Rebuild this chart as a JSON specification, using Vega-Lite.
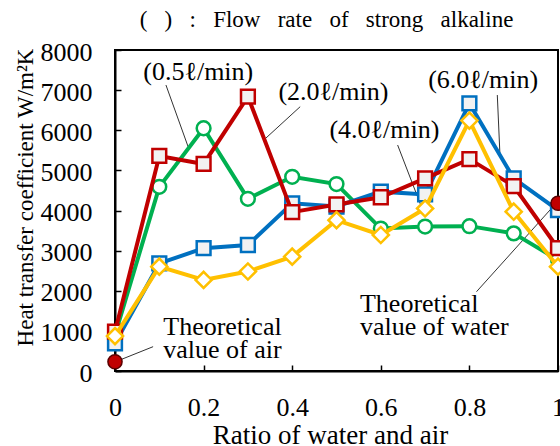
{
 "$schema": "https://vega.github.io/schema/vega-lite/v6.json",
 "width": 443,
 "height": 321,
 "autosize": {"type": "none"},
 "padding": {"left": 115, "top": 50, "right": 2, "bottom": 75},
 "background": "white",
 "config": {
  "font": "Liberation Serif",
  "view": {"stroke": "black", "strokeWidth": 2},
  "axis": {
   "grid": false,
   "domainColor": "black",
   "domainWidth": 2,
   "tickColor": "black",
   "tickWidth": 1.5,
   "tickSize": -6,
   "labelFont": "Liberation Serif",
   "titleFont": "Liberation Serif",
   "labelFontSize": 26,
   "labelColor": "black",
   "labelFlush": false,
   "labelOverlap": false,
   "titleColor": "black",
   "titleFontWeight": "normal"
  }
 },
 "title": {
  "text": "(\u2002 )\u2002 :\u2002 Flow\u2002 rate\u2002 of\u2002 strong\u2002 alkaline",
  "fontSize": 23,
  "fontWeight": "normal",
  "font": "Liberation Serif",
  "color": "black",
  "anchor": "middle",
  "baseline": "alphabetic",
  "offset": 8,
  "dy": 19,
  "dx": -10
 },
 "datasets": {
  "series": [
   {"flow": "0.5", "x": 0, "y": 900}, {"flow": "0.5", "x": 0.1, "y": 4590}, {"flow": "0.5", "x": 0.2, "y": 6050}, {"flow": "0.5", "x": 0.3, "y": 4290}, {"flow": "0.5", "x": 0.4, "y": 4840}, {"flow": "0.5", "x": 0.5, "y": 4660}, {"flow": "0.5", "x": 0.6, "y": 3550}, {"flow": "0.5", "x": 0.7, "y": 3600}, {"flow": "0.5", "x": 0.8, "y": 3610}, {"flow": "0.5", "x": 0.9, "y": 3430}, {"flow": "0.5", "x": 1.0, "y": 2770},
   {"flow": "6.0", "x": 0, "y": 690}, {"flow": "6.0", "x": 0.1, "y": 2680}, {"flow": "6.0", "x": 0.2, "y": 3060}, {"flow": "6.0", "x": 0.3, "y": 3140}, {"flow": "6.0", "x": 0.4, "y": 4180}, {"flow": "6.0", "x": 0.5, "y": 4100}, {"flow": "6.0", "x": 0.6, "y": 4470}, {"flow": "6.0", "x": 0.7, "y": 4400}, {"flow": "6.0", "x": 0.8, "y": 6670}, {"flow": "6.0", "x": 0.9, "y": 4800}, {"flow": "6.0", "x": 1.0, "y": 4010},
   {"flow": "2.0", "x": 0, "y": 980}, {"flow": "2.0", "x": 0.1, "y": 5360}, {"flow": "2.0", "x": 0.2, "y": 5160}, {"flow": "2.0", "x": 0.3, "y": 6840}, {"flow": "2.0", "x": 0.4, "y": 3960}, {"flow": "2.0", "x": 0.5, "y": 4150}, {"flow": "2.0", "x": 0.6, "y": 4330}, {"flow": "2.0", "x": 0.7, "y": 4800}, {"flow": "2.0", "x": 0.8, "y": 5280}, {"flow": "2.0", "x": 0.9, "y": 4610}, {"flow": "2.0", "x": 1.0, "y": 3060},
   {"flow": "4.0", "x": 0, "y": 870}, {"flow": "4.0", "x": 0.1, "y": 2600}, {"flow": "4.0", "x": 0.2, "y": 2270}, {"flow": "4.0", "x": 0.3, "y": 2480}, {"flow": "4.0", "x": 0.4, "y": 2850}, {"flow": "4.0", "x": 0.5, "y": 3760}, {"flow": "4.0", "x": 0.6, "y": 3390}, {"flow": "4.0", "x": 0.7, "y": 4050}, {"flow": "4.0", "x": 0.8, "y": 6240}, {"flow": "4.0", "x": 0.9, "y": 3970}, {"flow": "4.0", "x": 1.0, "y": 2600}
  ],
  "theory": [
   {"x": 0, "y": 230},
   {"x": 1, "y": 4180}
  ],
  "labels": [
   {"x": 0.188, "y": 7459, "text": "(0.5ℓ/min)"},
   {"x": 0.493, "y": 6960, "text": "(2.0ℓ/min)"},
   {"x": 0.831, "y": 7252, "text": "(6.0ℓ/min)"},
   {"x": 0.608, "y": 6006, "text": "(4.0ℓ/min)"}
  ],
  "notes": [
   {"x": 0.109, "y": 897, "text": "Theoretical"},
   {"x": 0.109, "y": 316, "text": "value of air"},
   {"x": 0.553, "y": 1478, "text": "Theoretical"},
   {"x": 0.553, "y": 897, "text": "value of water"}
  ],
  "leaders": [
   {"x": 0.115, "y": 7127, "x2": 0.165, "y2": 5590},
   {"x": 0.418, "y": 6587, "x2": 0.340, "y2": 5798},
   {"x": 0.863, "y": 6878, "x2": 0.869, "y2": 5383},
   {"x": 0.638, "y": 5632, "x2": 0.696, "y2": 3970},
   {"x": 0.086, "y": 606, "x2": 0.015, "y2": 292},
   {"x": 0.816, "y": 1976, "x2": 0.985, "y2": 4050}
  ]
 },
 "encoding": {
  "x": {
   "field": "x", "type": "quantitative",
   "scale": {"domain": [0, 1], "nice": false, "zero": false},
   "axis": {"values": [0, 0.2, 0.4, 0.6, 0.8, 1], "format": "~g", "labelPadding": 29, "title": "Ratio of water and air", "titleFontSize": 27, "titleY": 72, "titleX": 215, "titleBaseline": "alphabetic"}
  },
  "y": {
   "field": "y", "type": "quantitative",
   "scale": {"domain": [0, 8000], "nice": false},
   "axis": {"values": [0, 1000, 2000, 3000, 4000, 5000, 6000, 7000, 8000], "format": "d", "labelPadding": 29, "labelOffset": 2, "title": "Heat transfer coefficient W/m²K", "titleFontSize": 23, "titleX": -90, "titleY": 147, "titleBaseline": "middle", "titleAlign": "center", "titleAngle": -90}
  }
 },
 "layer": [
  {"data": {"name": "leaders"}, "mark": {"type": "rule", "color": "#333333", "strokeWidth": 1}, "encoding": {"x2": {"field": "x2"}, "y2": {"field": "y2"}}},
  {"data": {"name": "series"}, "transform": [{"filter": "datum.flow == '0.5'"}], "mark": {"type": "line", "color": "#00B050", "strokeWidth": 4}},
  {"data": {"name": "series"}, "transform": [{"filter": "datum.flow == '0.5'"}], "mark": {"type": "point", "shape": "circle", "filled": true, "fill": "white", "stroke": "#00B050", "strokeWidth": 2.5, "size": 190, "opacity": 1}},
  {"data": {"name": "series"}, "transform": [{"filter": "datum.flow == '6.0'"}], "mark": {"type": "line", "color": "#0070C0", "strokeWidth": 4}},
  {"data": {"name": "series"}, "transform": [{"filter": "datum.flow == '6.0'"}], "mark": {"type": "point", "shape": "square", "filled": true, "fill": "#F2F2F2", "stroke": "#0070C0", "strokeWidth": 2.5, "size": 190, "opacity": 1}},
  {"data": {"name": "series"}, "transform": [{"filter": "datum.flow == '2.0'"}], "mark": {"type": "line", "color": "#C00000", "strokeWidth": 4}},
  {"data": {"name": "series"}, "transform": [{"filter": "datum.flow == '2.0'"}], "mark": {"type": "point", "shape": "square", "filled": true, "fill": "#F2F2F2", "stroke": "#C00000", "strokeWidth": 2.5, "size": 190, "opacity": 1}},
  {"data": {"name": "series"}, "transform": [{"filter": "datum.flow == '4.0'"}], "mark": {"type": "line", "color": "#FFC000", "strokeWidth": 4}},
  {"data": {"name": "series"}, "transform": [{"filter": "datum.flow == '4.0'"}], "mark": {"type": "point", "shape": "diamond", "filled": true, "fill": "white", "stroke": "#FFC000", "strokeWidth": 2.5, "size": 260, "opacity": 1}},
  {"data": {"name": "theory"}, "mark": {"type": "point", "shape": "circle", "filled": true, "fill": "#C00000", "stroke": "#5a0000", "strokeWidth": 1.5, "size": 200, "opacity": 1}},
  {"data": {"name": "labels"}, "mark": {"type": "text", "fontSize": 26, "align": "center", "baseline": "middle", "color": "black"}, "encoding": {"text": {"field": "text"}}},
  {"data": {"name": "notes"}, "mark": {"type": "text", "fontSize": 26, "align": "left", "baseline": "alphabetic", "color": "black"}, "encoding": {"text": {"field": "text"}}}
 ]
}
